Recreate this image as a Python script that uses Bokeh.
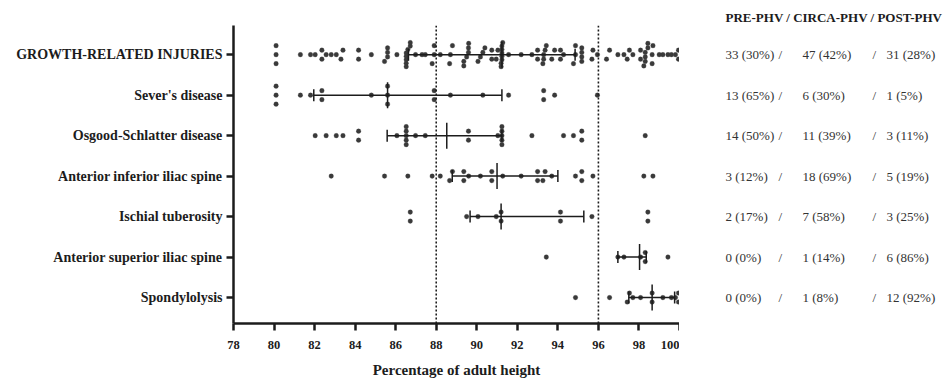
import numpy as np
from bokeh.plotting import figure
from bokeh.layouts import row
from bokeh.models import Span, FixedTicker, Range1d
from bokeh.core.properties import value
from bokeh.embed import file_html
from bokeh.resources import INLINE

# ---------------- data ----------------
categories = ["GROWTH-RELATED INJURIES", "Sever's disease", "Osgood-Schlatter disease",
              "Anterior inferior iliac spine", "Ischial tuberosity",
              "Anterior superior iliac spine", "Spondylolysis"]

severs = [80.1, 80.1, 80.1, 81.3, 81.8, 82.36, 82.36, 84.8, 85.6, 85.6, 85.6,
          87.9, 87.9, 88.7, 90.3, 91.57, 93.3, 93.3, 93.84, 95.95]
osgood = [82.03, 82.57, 83.07, 83.4, 84.17, 84.17, 86.06, 86.52, 86.52, 86.52, 86.52,
          86.52, 86.98, 87.46, 89.59, 89.59, 91.04, 91.24, 91.24, 91.24, 91.24, 91.24,
          92.72, 94.28, 94.77, 95.18, 95.18, 98.31]
aiis = [82.82, 85.45, 86.6, 87.8, 88.2, 88.66, 88.8, 89.36, 89.36, 89.6, 90.18, 90.74,
        90.74, 91.28, 92.19, 93.0, 93.0, 93.26, 93.37, 93.7, 94.87, 95.18, 95.18, 95.73,
        98.24, 98.69]
ischial = [86.72, 86.72, 89.5, 90.06, 90.96, 91.2, 91.2, 94.13, 94.13, 95.68, 98.44, 98.44]
asis = [93.43, 96.96, 97.26, 98.08, 98.31, 98.31, 99.43]
spondy = [94.87, 96.55, 97.42, 97.53, 97.7, 98.08, 98.65, 98.65, 99.18, 99.6, 99.8,
          99.95, 99.95]
growth_other = [83.3, 87.3, 90.4, 96.4, 99.0]
growth = severs + osgood + aiis + ischial + asis + spondy + growth_other

series = [growth, severs, osgood, aiis, ischial, asis, spondy]

center = [91.24, 85.6, 88.52, 91.0, 91.2, 98.03, 98.65]
lo = [86.63, 81.96, 85.58, 88.79, 89.67, 96.96, 97.5]
hi = [94.85, 91.24, 91.24, 94.0, 95.28, 98.36, 99.76]

pre_n = [33, 13, 14, 3, 2, 0, 0]
pre_pct = [30, 65, 50, 12, 17, 0, 0]
circa_n = [47, 6, 11, 18, 7, 1, 1]
circa_pct = [42, 30, 39, 69, 58, 14, 8]
post_n = [31, 1, 3, 5, 3, 6, 12]
post_pct = [28, 5, 11, 19, 25, 86, 92]

header = "PRE-PHV / CIRCA-PHV / POST-PHV"
x_ticks = list(range(78, 101, 2))
thresholds = [88, 96]
x_title = "Percentage of adult height"

# ---------------- layout ----------------
SERIF = "Liberation Serif"
INK = "#1c1c1c"
DOT = "#3a3a3a"
TXT = "#333333"
Y0, Y1 = 0.36, 7.72
FRAME_TOP = 25
FRAME_H = 298
BOTTOM = 57
H = FRAME_TOP + FRAME_H + BOTTOM
PX_PER_Y = FRAME_H / (Y1 - Y0)

rows = list(range(len(categories), 0, -1))  # 7 .. 1


def swarm(vals, gap=0.15):
    v = np.sort(np.asarray(vals, float))
    offs = np.zeros_like(v)
    start = 0
    for i in range(1, len(v) + 1):
        if i == len(v) or v[i] - v[i - 1] > gap:
            n = i - start
            if n > 1:
                sp = 9.0 if n <= 3 else max(3.0, min(4.5, 24.0 / (n - 1)))
                for k in range(n):
                    offs[start + k] = (k - (n - 1) / 2) * sp / PX_PER_Y
            start = i
    return v, offs


p = figure(width=233 + 446, height=H, output_backend="svg", toolbar_location=None,
           x_range=Range1d(78, 100), y_range=Range1d(Y0, Y1),
           min_border_left=233, min_border_right=0, min_border_top=FRAME_TOP,
           min_border_bottom=BOTTOM)
p.outline_line_color = None
p.xgrid.visible = False
p.ygrid.visible = False

for thr in thresholds:
    p.add_layout(Span(location=thr, dimension="height", line_color=INK,
                      line_width=1.6, line_dash="2 2"))

for vals, r in zip(series, rows):
    xs, offs = swarm(vals)
    p.scatter(xs, r + offs, size=4.6, fill_color=DOT, line_color=DOT, line_width=0.3)

p.segment(x0=lo, y0=rows, x1=hi, y1=rows, line_color=INK, line_width=1.5)
p.scatter(x=lo + hi, y=rows + rows, marker="dash", angle=np.pi / 2, size=12,
          line_color=INK, line_width=1.5)
p.scatter(x=center, y=rows, marker="dash", angle=np.pi / 2, size=26,
          line_color=INK, line_width=1.5)

# axes
p.xaxis.ticker = FixedTicker(ticks=x_ticks)
p.xaxis.axis_label = x_title
p.xaxis.axis_label_text_font = SERIF
p.xaxis.axis_label_text_font_style = "bold"
p.xaxis.axis_label_text_font_size = "15px"
p.xaxis.axis_label_text_color = INK
p.xaxis.axis_label_standoff = 10
p.xaxis.major_label_text_font = SERIF
p.xaxis.major_label_text_font_style = "bold"
p.xaxis.major_label_text_font_size = "12.5px"
p.xaxis.major_label_text_color = INK
p.xaxis.major_label_standoff = 10

p.yaxis.ticker = FixedTicker(ticks=rows)
p.yaxis.major_label_overrides = {r: c for r, c in zip(rows, categories)}
p.yaxis.major_label_text_font = SERIF
p.yaxis.major_label_text_font_style = "bold"
p.yaxis.major_label_text_font_size = "14px"
p.yaxis.major_label_text_color = INK
p.yaxis.major_label_standoff = 4

for ax in (p.xaxis, p.yaxis):
    ax.axis_line_width = 2.5
    ax.axis_line_color = INK
    ax.major_tick_line_width = 2.5
    ax.major_tick_line_color = INK
    ax.major_tick_out = 7
    ax.major_tick_in = 0
    ax.minor_tick_line_color = None

# ---------------- right-hand table (own figure, frame aligned with main) ----------------
TW = 944 - (233 + 446)
tab = figure(width=TW, height=H, output_backend="svg", toolbar_location=None,
             x_range=Range1d(0, TW), y_range=Range1d(Y0, Y1),
             min_border_left=0, min_border_right=0, min_border_top=FRAME_TOP,
             min_border_bottom=BOTTOM, x_axis_location=None, y_axis_location=None)
tab.outline_line_color = None
tab.xgrid.visible = False
tab.ygrid.visible = False


def cell(n, pct):
    sep = "  " if n == 1 and pct != 8 else " "
    return f"{n}{sep}({pct}%)"


col_off = [46, 99, 123, 193, 207]
tx, ty, tt = [], [], []
for i, r in enumerate(rows):
    cells = [f"{pre_n[i]} ({pre_pct[i]}%)", "/", cell(circa_n[i], circa_pct[i]), "/",
             cell(post_n[i], post_pct[i])]
    for off, txt in zip(col_off, cells):
        tx.append(off)
        ty.append(r)
        tt.append(txt)
tab.text(x=tx, y=ty, text=tt, text_font=value(SERIF), text_font_size="13px",
         text_color=TXT, text_baseline="middle")

tab.title.text = header
tab.title.align = "left"
tab.title.offset = col_off[0]
tab.title.text_font = SERIF
tab.title.text_font_style = "bold"
tab.title.text_font_size = "13px"
tab.title.text_color = INK
tab.title.standoff = 2

open("out.html", "w").write(file_html(row(p, tab), INLINE))
